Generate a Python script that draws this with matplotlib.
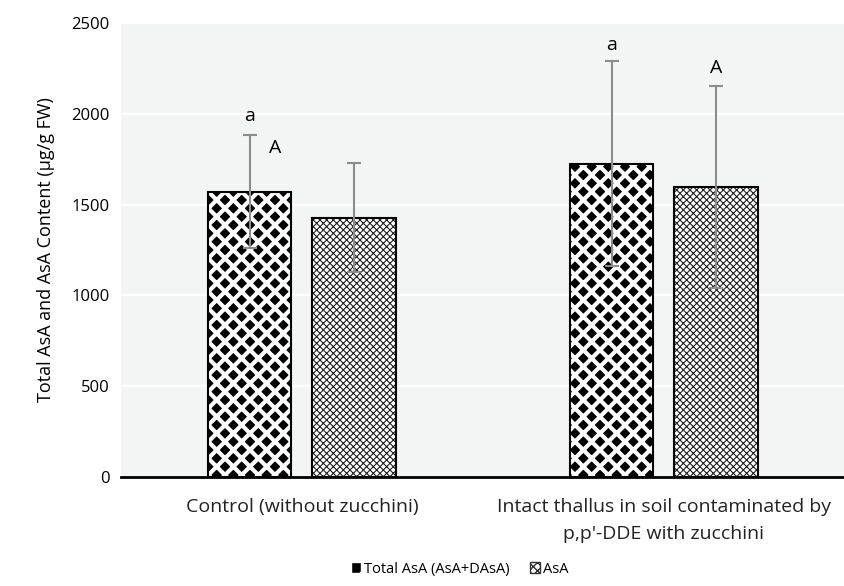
import numpy as np
import matplotlib
matplotlib.use('Agg')
import matplotlib.pyplot as plt
from matplotlib.patches import Patch

plt.rcParams['font.family'] = ['Open Sans', 'DejaVu Sans']
plt.rcParams['font.size'] = 12

categories = ['Control (without zucchini)',
              'Intact thallus in soil contaminated by\np,p\'-DDE with zucchini']
total_asa = [1570, 1725]
total_err = [310, 565]
asa = [1428, 1598]
asa_err = [298, 556]
total_letters = ['a', 'a']
asa_letters = ['A', 'A']

fig = plt.figure(figsize=(8.45, 5.86), dpi=100)
ax = fig.add_axes([0.143, 0.186, 0.857, 0.775])
ax.set_facecolor('#f3f5f4')

x = np.arange(len(categories))
w = 0.23
off = 0.144

# Total AsA: black diamonds on white (white hatch over black face)
ax.bar(x - off, total_asa, w, color='black', edgecolor='white', hatch='xx', linewidth=0, zorder=2)
ax.bar(x - off, total_asa, w, fill=False, edgecolor='black', linewidth=1.5, zorder=3)
# AsA: fine mesh
ax.bar(x + off, asa, w, color='white', edgecolor='#222222', hatch='xxxxx', linewidth=0, zorder=2)
ax.bar(x + off, asa, w, fill=False, edgecolor='black', linewidth=1.5, zorder=3)

for p in ax.patches[:2]:
    if hasattr(p, 'set_hatch_linewidth'):
        p.set_hatch_linewidth(3.0)
for p in ax.patches[4:6]:
    if hasattr(p, 'set_hatch_linewidth'):
        p.set_hatch_linewidth(0.8)

ax.errorbar(x - off, total_asa, yerr=total_err, fmt='none', ecolor='#8c8c8c',
            elinewidth=1.5, capsize=5, capthick=1.5, zorder=4)
ax.errorbar(x + off, asa, yerr=asa_err, fmt='none', ecolor='#8c8c8c',
            elinewidth=1.5, capsize=5, capthick=1.5, zorder=4)

# significance letters
ax.text(x[0] - off, total_asa[0] + total_err[0] + 105, total_letters[0], ha='center', va='center', fontsize=14)
ax.text(x[0] - 0.075, 1813, asa_letters[0], ha='center', va='center', fontsize=14)
ax.text(x[1] - off, total_asa[1] + total_err[1] + 90, total_letters[1], ha='center', va='center', fontsize=14)
ax.text(x[1] + off, asa[1] + asa_err[1] + 95, asa_letters[1], ha='center', va='center', fontsize=14)

ax.set_xlim(-0.5, 1.5)
ax.set_ylim(0, 2500)
ax.set_yticks(np.arange(0, 2501, 500))
ax.yaxis.grid(True, color='white', linewidth=1.5, zorder=0)
ax.set_axisbelow(True)
ax.set_xticks(x)
ax.set_xticklabels(categories, fontsize=14, color='#222222', linespacing=1.65)
ax.tick_params(axis='both', length=0, pad=8, labelsize=12)
ax.tick_params(axis='x', pad=15, labelsize=14)
for s in ['top', 'right', 'left']:
    ax.spines[s].set_visible(False)
ax.spines['bottom'].set_linewidth(2)
ax.set_ylabel('Total AsA and AsA Content (\u00b5g/g FW)', fontsize=13, labelpad=12)

handles = [Patch(facecolor='black', edgecolor='white', hatch='x', label='Total AsA (AsA+DAsA)'),
           Patch(facecolor='white', edgecolor='#333333', hatch='xxxx', label='AsA')]
fig.legend(handles=handles, loc='center', bbox_to_anchor=(0.544, 0.029), ncol=2, frameon=False,
           handlelength=0.7, handleheight=0.7, handletextpad=0.2, columnspacing=1.4, fontsize=10.5)

fig.savefig('out.png', dpi=100)
